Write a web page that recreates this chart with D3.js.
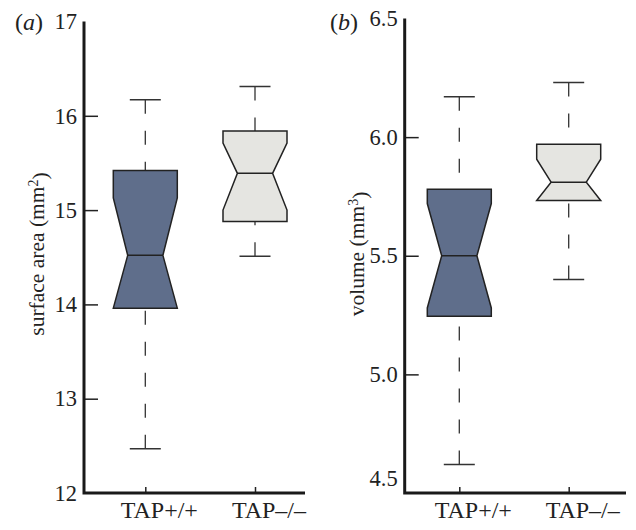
<!DOCTYPE html>
<html>
<head>
<meta charset="utf-8">
<script src="https://cdn.jsdelivr.net/npm/d3@7"></script>
<style>
  body { margin: 0; background: #fff; }
  text { font-family: "Liberation Serif", "DejaVu Serif", serif; fill: #222; }
</style>
</head>
<body>
<div id="chart"></div>
<script>
// groups on the x axis
const genotypes = ["TAP+/+", "TAP–/–"];

// surface area (mm2): [whisker low, q1, notch low, median, notch high, q3, whisker high]
const areaStats = [
  [12.47, 13.96, 13.96, 14.52, 15.13, 15.42, 16.17],
  [14.51, 14.88, 15.00, 15.39, 15.71, 15.84, 16.31]
];
const areaTicks = [12, 13, 14, 15, 16, 17];

// volume (mm3)
const volumeStats = [
  [4.62, 5.245, 5.28, 5.50, 5.72, 5.78, 6.17],
  [5.40, 5.733, 5.733, 5.81, 5.907, 5.97, 6.23]
];
const volumeTicks = [4.5, 5.0, 5.5, 6.0, 6.5];

const width = 636
const height = 530
const colors = ["#5f6e8b", "#e5e5e1"]

const svg = d3.select("#chart")
    .append("svg")
    .attr("width", width)
    .attr("height", height)

function drawPanel(opt) {
    const g = svg.append("g")

    const y = d3.scaleLinear()
        .domain(opt.domain)
        .range([493, opt.top])

    const x = d3.scalePoint()
        .domain(genotypes)
        .range(opt.xRange)

    // y axis
    const yAxis = g.append("g")
        .attr("transform", "translate(" + opt.left + ",0)")
        .call(d3.axisLeft(y).tickValues(opt.ticks).tickSize(-14).tickPadding(7)
            .tickFormat(opt.fmt))
    yAxis.select(".domain").remove()
    yAxis.selectAll(".tick line").attr("stroke", "#222").attr("stroke-width", 1.5)
    yAxis.selectAll(".tick text").style("font-size", "22.5px").attr("fill", "#222")
    if (opt.bottomShift) {
        yAxis.selectAll(".tick text").filter(d => d === opt.domain[0])
            .attr("y", -opt.bottomShift)
    }
    yAxis.selectAll(".tick").filter(d => d === opt.domain[0] || d === opt.domain[1])
        .select("line").remove()

    // x axis
    const xAxis = g.append("g")
        .attr("transform", "translate(0,493)")
        .call(d3.axisBottom(x).tickSize(-6).tickPadding(7.5))
    xAxis.select(".domain").remove()
    xAxis.selectAll(".tick line").attr("stroke", "#222").attr("stroke-width", 1.5)
    xAxis.selectAll(".tick text").style("font-size", "24px").attr("fill", "#222")
        .attr("dx", 13.5)

    // axis lines
    g.append("path")
        .attr("d", "M" + opt.left + "," + y(opt.domain[1]) + "V493H" + opt.right)
        .attr("fill", "none")
        .attr("stroke", "#1a1a1a")
        .attr("stroke-width", 3)

    const boxW = 64
    const notchW = 0.55 * boxW
    const capW = 31

    const boxes = g.append("g")
        .selectAll("g")
        .data(opt.stats)
        .enter()
        .append("g")

    // whiskers, dashed from the cap toward the box
    boxes.append("path")
        .attr("d", (d, i) => "M" + x(genotypes[i]) + "," + y(d[6]) + "V" + y(d[5]) +
            "M" + x(genotypes[i]) + "," + y(d[0]) + "V" + y(d[1]))
        .attr("stroke", "#333")
        .attr("stroke-width", 1.3)
        .attr("stroke-dasharray", "14,17")
        .attr("fill", "none")

    boxes.append("path")
        .attr("d", (d, i) => {
            const cx = x(genotypes[i])
            return "M" + (cx - capW / 2) + "," + y(d[6]) + "H" + (cx + capW / 2) +
                "M" + (cx - capW / 2) + "," + y(d[0]) + "H" + (cx + capW / 2)
        })
        .attr("stroke", "#333")
        .attr("stroke-width", 1.5)

    // notched box
    boxes.append("path")
        .attr("d", (d, i) => {
            const cx = x(genotypes[i])
            const l = cx - boxW / 2, r = cx + boxW / 2
            const nl = cx - notchW / 2, nr = cx + notchW / 2
            return "M" + l + "," + y(d[5]) +
                "H" + r +
                "V" + y(d[4]) +
                "L" + nr + "," + y(d[3]) +
                "L" + r + "," + y(d[2]) +
                "V" + y(d[1]) +
                "H" + l +
                "V" + y(d[2]) +
                "L" + nl + "," + y(d[3]) +
                "L" + l + "," + y(d[4]) + "Z"
        })
        .attr("fill", (d, i) => colors[i])
        .attr("stroke", "#222")
        .attr("stroke-width", 1.5)

    boxes.append("path")
        .attr("d", (d, i) => "M" + (x(genotypes[i]) - notchW / 2) + "," + y(d[3]) +
            "H" + (x(genotypes[i]) + notchW / 2))
        .attr("stroke", "#222")
        .attr("stroke-width", 1.5)

    // panel letter
    const lab = g.append("text")
        .attr("x", opt.letterX)
        .attr("y", 30)
        .style("font-size", "24px")
    lab.append("tspan").text("(")
    lab.append("tspan").style("font-style", "italic").text(opt.letter)
    lab.append("tspan").text(")")

    // y axis title
    const title = g.append("text")
        .attr("transform", "translate(" + opt.titleX + ",254) rotate(-90)")
        .attr("text-anchor", "middle")
        .style("font-size", "21.5px")
    title.append("tspan").text(opt.title + " (mm")
    title.append("tspan").attr("dy", "-0.45em").style("font-size", "14px").text(opt.sup)
    title.append("tspan").attr("dy", "0.45em").text(")")
}

drawPanel({
    stats: areaStats, ticks: areaTicks, domain: [12, 17], top: 21.5,
    left: 84, right: 305, xRange: [145.3, 255], fmt: d3.format("d"),
    letter: "a", letterX: 15, title: "surface area", sup: "2", titleX: 44
})

drawPanel({
    stats: volumeStats, ticks: volumeTicks, domain: [4.5, 6.5], top: 18.5,
    left: 404.7, right: 626, xRange: [459.3, 568.7], fmt: d3.format(".1f"),
    letter: "b", letterX: 330, title: "volume", sup: "3", titleX: 364,
    bottomShift: 15
})
</script>
</body>
</html>
